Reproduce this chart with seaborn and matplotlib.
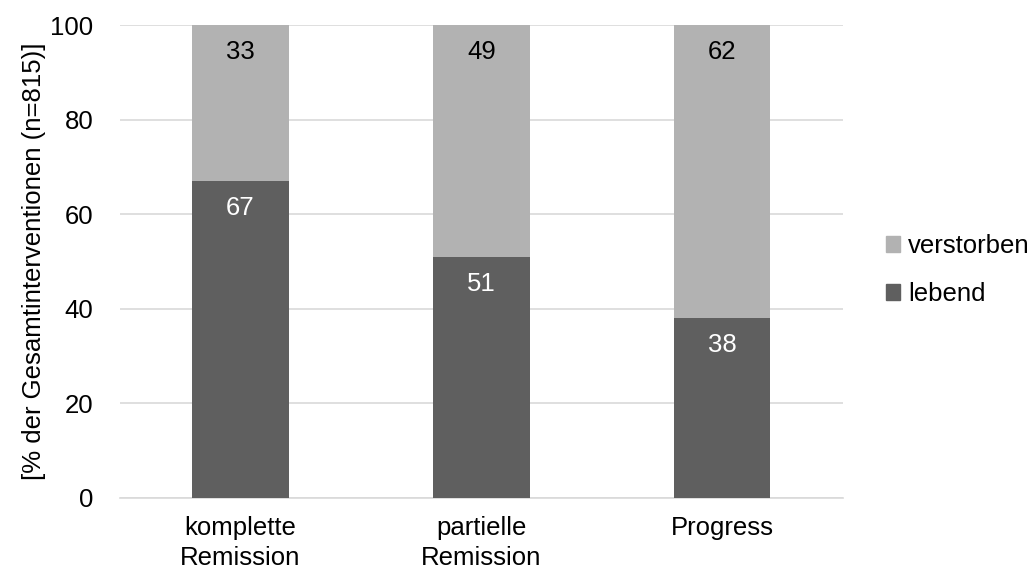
import pandas as pd
import seaborn as sns
import matplotlib.pyplot as plt
from matplotlib.patches import Patch

categories = ['komplette\nRemission', 'partielle\nRemission', 'Progress']
lebend = [67, 51, 38]
verstorben = [33, 49, 62]

dark = '#5f5f5f'
light = '#b2b2b2'

sns.set_style('white')
plt.rcParams['font.family'] = ['Liberation Sans', 'DejaVu Sans']
plt.rcParams['text.color'] = 'black'

df = pd.DataFrame({'cat': categories, 'lebend': lebend, 'verstorben': verstorben})
df['total'] = df['lebend'] + df['verstorben']

fig = plt.figure(figsize=(10.34, 5.71), dpi=100)
ax = fig.add_axes([0.116, 0.128, 0.699, 0.828])

# stacked: total first (light), lebend on top of it (dark)
sns.barplot(data=df, x='cat', y='total', color=light, width=0.4, saturation=1,
            linewidth=0, ax=ax, zorder=2)
sns.barplot(data=df, x='cat', y='lebend', color=dark, width=0.4, saturation=1,
            linewidth=0, ax=ax, zorder=3)

fs = 18.5
for i, row in df.iterrows():
    ax.annotate(str(row['lebend']), (i, row['lebend']), xytext=(0, -19.5), textcoords='offset points',
                ha='center', va='center', color='white', fontsize=fs, zorder=4)
    ax.annotate(str(row['verstorben']), (i, row['total']), xytext=(0, -19.5), textcoords='offset points',
                ha='center', va='center', color='black', fontsize=fs, zorder=4)

ax.set_ylim(0, 100)
ax.set_xlim(-0.5, 2.5)
ax.set_yticks(range(0, 101, 20))
ax.yaxis.grid(True, color='#d9d9d9', linewidth=1.2, zorder=0)
ax.set_axisbelow(True)
for s in ['top', 'right', 'left']:
    ax.spines[s].set_visible(False)
ax.spines['bottom'].set_color('#d9d9d9')
ax.spines['bottom'].set_linewidth(1.2)
ax.tick_params(axis='both', length=0, labelsize=fs, labelcolor='black')
ax.tick_params(axis='x', pad=13)
ax.tick_params(axis='y', pad=19)
for lbl in ax.get_xticklabels():
    lbl.set_linespacing(1.3)
ax.set_xlabel('')
ax.set_ylabel('[% der Gesamtinterventionen (n=815)]', fontsize=fs, color='black', labelpad=3)

handles = [Patch(color=light, label='verstorben'), Patch(color=dark, label='lebend')]
fig.legend(handles=handles, loc='center left', bbox_to_anchor=(0.857, 0.527), frameon=False,
           fontsize=fs, handlelength=0.55, handleheight=0.55, handletextpad=0.3,
           labelspacing=0.95, borderpad=0, borderaxespad=0)

fig.savefig('out.png', dpi=100)
